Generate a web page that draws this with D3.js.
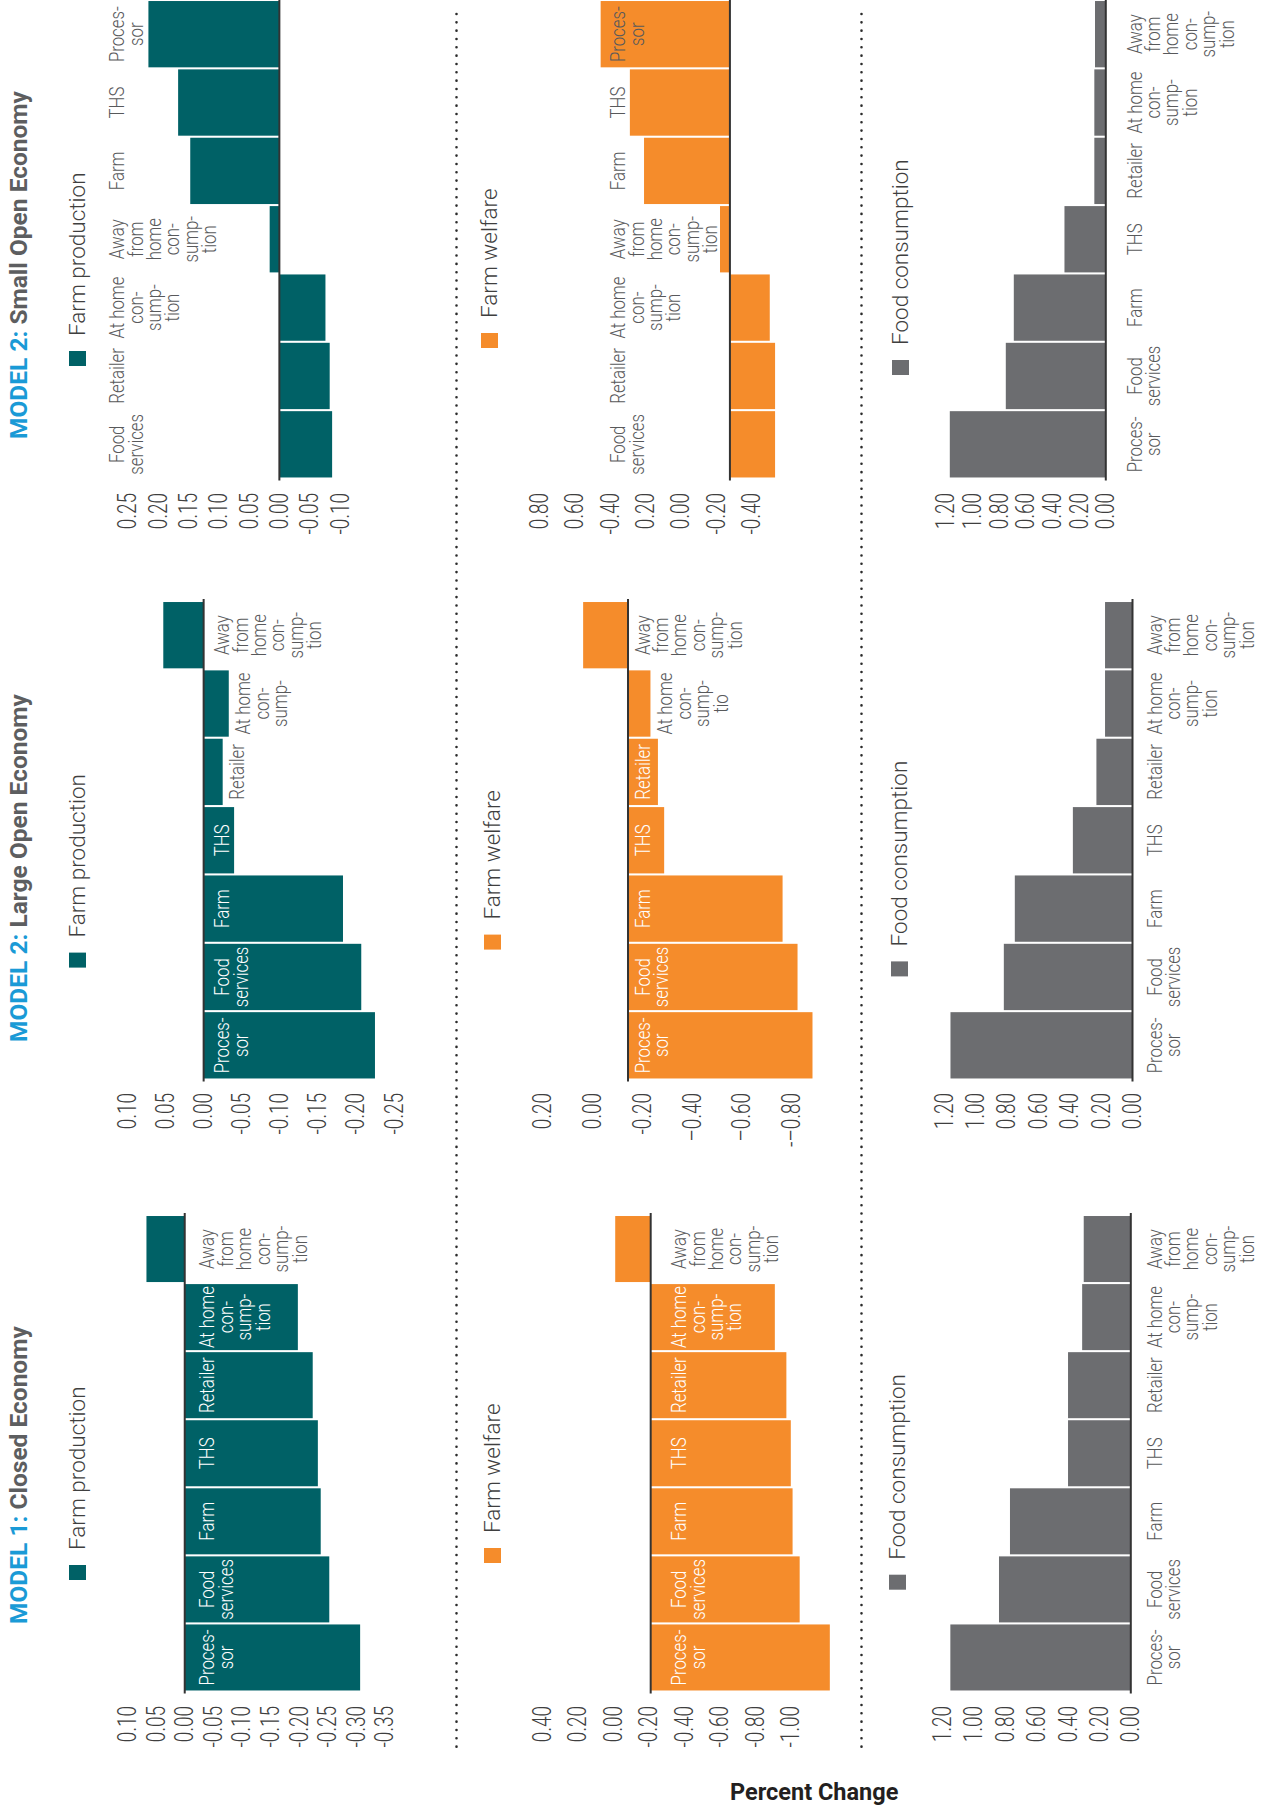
<!DOCTYPE html>
<html>
<head>
<meta charset="utf-8">
<script src="https://cdn.jsdelivr.net/npm/d3@7"></script>
<style>
  html, body { margin: 0; padding: 0; background: #fff; }
  svg { display: block; }
  text { font-family: Roboto, "Liberation Sans", sans-serif; }
</style>
</head>
<body>
<svg id="chart" width="1264" height="1811"></svg>
<script>
// ---- data -------------------------------------------------------------
// Supply-chain segments, standard order
const categories = ["Processor", "Food services", "Farm", "THS", "Retailer",
                    "At home consumption", "Away from home consumption"];
const categoryLines = [
  ["Proces-", "sor"], ["Food", "services"], ["Farm"], ["THS"], ["Retailer"],
  ["At home", "con-", "sump-", "tion"],
  ["Away", "from", "home", "con-", "sump-", "tion"]
];
// Small open economy panels list the segments by size
const smallOrder = [1, 4, 5, 6, 2, 3, 0];

const modelTags  = ["MODEL 1:", "MODEL 2:", "MODEL 2:"];
const modelNames = ["Closed Economy", "Large Open Economy", "Small Open Economy"];
const measures   = ["Farm production", "Farm welfare", "Food consumption"];

// Percent change by segment (standard order)
const closedProduction  = [-0.307, -0.253, -0.238, -0.233, -0.224, -0.198, 0.067];
const closedWelfare     = [-1.01, -0.84, -0.80, -0.79, -0.765, -0.70, 0.20];
const closedConsumption = [1.15, 0.84, 0.77, 0.40, 0.40, 0.31, 0.30];
const largeProduction   = [-0.225, -0.207, -0.183, -0.040, -0.025, -0.033, 0.053];
const largeWelfare      = [-0.74, -0.68, -0.62, -0.145, -0.12, -0.09, 0.18];
const largeConsumption  = [1.16, 0.82, 0.75, 0.38, 0.23, 0.175, 0.175];
const smallProduction   = [0.216, -0.087, 0.147, 0.167, -0.083, -0.076, 0.016];
const smallWelfare      = [0.73, -0.255, 0.485, 0.565, -0.255, -0.225, 0.056];
const smallConsumption  = [1.17, 0.75, 0.69, 0.31, 0.086, 0.086, 0.081];

// Axis ticks and their printed labels
const ticksClosedProd  = [0.10, 0.05, 0, -0.05, -0.10, -0.15, -0.20, -0.25, -0.30, -0.35];
const labelsClosedProd = ["0.10", "0.05", "0.00", "-0.05", "-0.10", "-0.15", "-0.20", "-0.25", "-0.30", "-0.35"];
const ticksClosedWelf  = [0.40, 0.20, 0, -0.20, -0.40, -0.60, -0.80, -1.00];
const labelsClosedWelf = ["0.40", "0.20", "0.00", "-0.20", "-0.40", "-0.60", "-0.80", "-1.00"];
const ticksLargeProd   = [0.10, 0.05, 0, -0.05, -0.10, -0.15, -0.20, -0.25];
const labelsLargeProd  = ["0.10", "0.05", "0.00", "-0.05", "-0.10", "-0.15", "-0.20", "-0.25"];
const ticksLargeWelf   = [0.20, 0, -0.20, -0.40, -0.60, -0.80];
const labelsLargeWelf  = ["0.20", "0.00", "-0.20", "\u20130.40", "\u20130.60", "-\u20130.80"];
const ticksSmallProd   = [0.25, 0.20, 0.15, 0.10, 0.05, 0, -0.05, -0.10];
const labelsSmallProd  = ["0.25", "0.20", "0.15", "0.10", "0.05", "0.00", "-0.05", "-0.10"];
const ticksSmallWelf   = [0.80, 0.60, 0.40, 0.20, 0, -0.20, -0.40];
const labelsSmallWelf  = ["0.80", "0.60", "-0.40", "0.20", "0.00", "-0.20", "-0.40"];
const ticksCons        = [1.20, 1.00, 0.80, 0.60, 0.40, 0.20, 0];
const labelsCons       = ["1.20", "1.00", "0.80", "0.60", "0.40", "0.20", "0.00"];

// ---- styling ----------------------------------------------------------
const fills = ["#006166", "#f58c2b", "#6c6d70"];
const blue = "#1a9ad6", darkGrey = "#58595b", inkGrey = "#3f3f3f";

// ---- layout (landscape sheet, turned a quarter so it reads upward) ----
const W = 1811, H = 1264;
const svg = d3.select("#chart");
const sheet = svg.append("g").attr("transform", `translate(0,${W}) rotate(-90)`);

const columns = [
  { band: [119.5, 596],  tickX: 105,  titleX: 187 },
  { band: [731.5, 1210], tickX: 718,  titleX: 769 },
  { band: [1332.5, 1811], tickX: 1318, titleX: 1372 }
];

const panels = [
  { col: 0, row: 0, values: closedProduction, ticks: ticksClosedProd, labels: labelsClosedProd,
    base: 0, dom: [0.10, -0.35], rng: [127.6, 384.7], labelY: 214.2, legend: [231, 69] },
  { col: 0, row: 1, values: closedWelfare, ticks: ticksClosedWelf, labels: labelsClosedWelf,
    base: -0.21, dom: [0.40, -1.00], rng: [542.5, 790.8], labelY: 686, legend: [248, 484] },
  { col: 0, row: 2, values: closedConsumption, ticks: ticksCons, labels: labelsCons,
    base: 0, dom: [1.20, 0], rng: [942.5, 1130.8], labelY: 1161.5, legend: [221.3, 889] },
  { col: 1, row: 0, values: largeProduction, ticks: ticksLargeProd, labels: labelsLargeProd,
    base: 0, dom: [0.10, -0.25], rng: [127.5, 394], labelY: 229, legend: [843.4, 69],
    lines: { 5: ["At home", "con-", "sump-"] } },
  { col: 1, row: 1, values: largeWelfare, ticks: ticksLargeWelf, labels: labelsLargeWelf,
    base: -0.143, dom: [0.20, -0.80], rng: [542.5, 791.8], labelY: 649.5, legend: [861.4, 484],
    lines: { 5: ["At home", "con-", "sump-", "tio"] } },
  { col: 1, row: 2, values: largeConsumption, ticks: ticksCons, labels: labelsCons,
    base: 0, dom: [1.20, 0], rng: [944.2, 1132.5], labelY: 1161.5, legend: [834.6, 891] },
  { col: 2, row: 0, values: smallProduction, ticks: ticksSmallProd, labels: labelsSmallProd,
    base: 0, dom: [0.25, -0.10], rng: [127.8, 340], labelY: 124, legend: [1445, 69], order: smallOrder },
  { col: 2, row: 1, values: smallWelfare, ticks: ticksSmallWelf, labels: labelsSmallWelf,
    base: -0.277, dom: [0.80, -0.40], rng: [539.2, 751.7], labelY: 625, legend: [1463, 481], order: smallOrder },
  { col: 2, row: 2, values: smallConsumption, ticks: ticksCons, labels: labelsCons,
    base: 0, dom: [1.20, 0], rng: [945.8, 1105.8], labelY: 1141.5, legend: [1436, 892] }
];

const lineH = 18.5, labelSize = 21, labelSqueeze = 0.8, capH = labelSize * 0.72;
const tickSize = 25, tickSqueeze = 0.76;

panels.forEach(p => {
  const colCfg = columns[p.col];
  const order = p.order || d3.range(categories.length);
  const x = d3.scaleBand()
    .domain(order.map(i => categories[i]))
    .range(colCfg.band)
    .paddingInner(0.03)
    .paddingOuter(0.015);
  const y = d3.scaleLinear().domain(p.dom).range(p.rng);
  const g = sheet.append("g");
  const y0 = y(p.base);

  // value axis: printed labels only
  const axis = d3.axisLeft(y)
    .tickValues(p.ticks)
    .tickFormat((d, i) => p.labels[i])
    .tickSize(0)
    .tickPadding(0);
  const ax = g.append("g")
    .attr("transform", `translate(${colCfg.tickX},0)`)
    .call(axis);
  ax.select(".domain").remove();
  ax.selectAll("text")
    .attr("font-family", "Roboto, 'Liberation Sans', sans-serif")
    .attr("font-size", tickSize)
    .attr("font-weight", 300)
    .attr("fill", inkGrey)
    .attr("transform", `scale(${tickSqueeze},1)`);
  ax.attr("font-family", null).attr("font-size", null);

  // bars
  const rows = order.map(i => ({ i, name: categories[i], v: p.values[i] }));
  g.selectAll("rect.bar").data(rows).join("rect")
    .attr("class", "bar")
    .attr("x", d => x(d.name))
    .attr("width", x.bandwidth())
    .attr("y", d => Math.min(y0, y(p.base + d.v)))
    .attr("height", d => Math.abs(y(p.base + d.v) - y0))
    .attr("fill", fills[p.row]);

  // baseline
  g.append("line")
    .attr("x1", colCfg.band[0] - 2).attr("x2", colCfg.band[1] + 2)
    .attr("y1", y0).attr("y2", y0)
    .attr("stroke", "#333").attr("stroke-width", 2);

  // segment labels: white inside a hanging bar when they fit,
  // otherwise grey and pushed just past the bar's end
  rows.forEach(d => {
    const lines = (p.lines && p.lines[d.i]) || categoryLines[d.i];
    const top = p.labelY - capH;
    const bottom = p.labelY + (lines.length - 1) * lineH;
    const end = y(p.base + d.v);
    const hangsOver = d.v < 0 && top > y0;
    const inside = hangsOver && end >= bottom;
    let ly = p.labelY;
    if (hangsOver && !inside && end + 6.5 > top) ly = end + 6.5 + capH;
    const t = g.append("text")
      .attr("transform", `translate(${x(d.name) + x.bandwidth() / 2},${ly}) scale(${labelSqueeze},1)`)
      .attr("text-anchor", "middle")
      .attr("font-size", labelSize)
      .attr("font-weight", 300)
      .attr("fill", inside ? "#fff" : darkGrey);
    lines.forEach((s, k) => {
      t.append("tspan").attr("x", 0).attr("dy", k === 0 ? 0 : lineH).text(s);
    });
  });

  // legend
  g.append("rect")
    .attr("x", p.legend[0]).attr("y", p.legend[1])
    .attr("width", 15).attr("height", 17)
    .attr("fill", fills[p.row]);
  g.append("text")
    .attr("x", p.legend[0] + 30).attr("y", p.legend[1] + 15.6)
    .attr("font-size", 22.5).attr("font-weight", 300)
    .attr("fill", inkGrey)
    .text(measures[p.row]);
});

// model titles
columns.forEach((c, i) => {
  const t = sheet.append("text")
    .attr("x", c.titleX).attr("y", 27.3)
    .attr("font-size", 24.5).attr("font-weight", 700);
  t.append("tspan").attr("fill", blue).text(modelTags[i]);
  t.append("tspan").attr("fill", "#5d5e60").text(" " + modelNames[i]);
});

// dotted separators between the three measures
[456.5, 861.5].forEach(sx => {
  svg.append("line")
    .attr("x1", sx).attr("x2", sx).attr("y1", 14).attr("y2", 1753)
    .attr("stroke", "#2b2b2b").attr("stroke-width", 2.6)
    .attr("stroke-linecap", "round")
    .attr("stroke-dasharray", "0 8.33");
});

// shared value-axis title
svg.append("text")
  .attr("x", 730).attr("y", 1800)
  .attr("font-size", 23.5).attr("font-weight", 700)
  .attr("fill", "#231f20")
  .text("Percent Change");
</script>
</body>
</html>
